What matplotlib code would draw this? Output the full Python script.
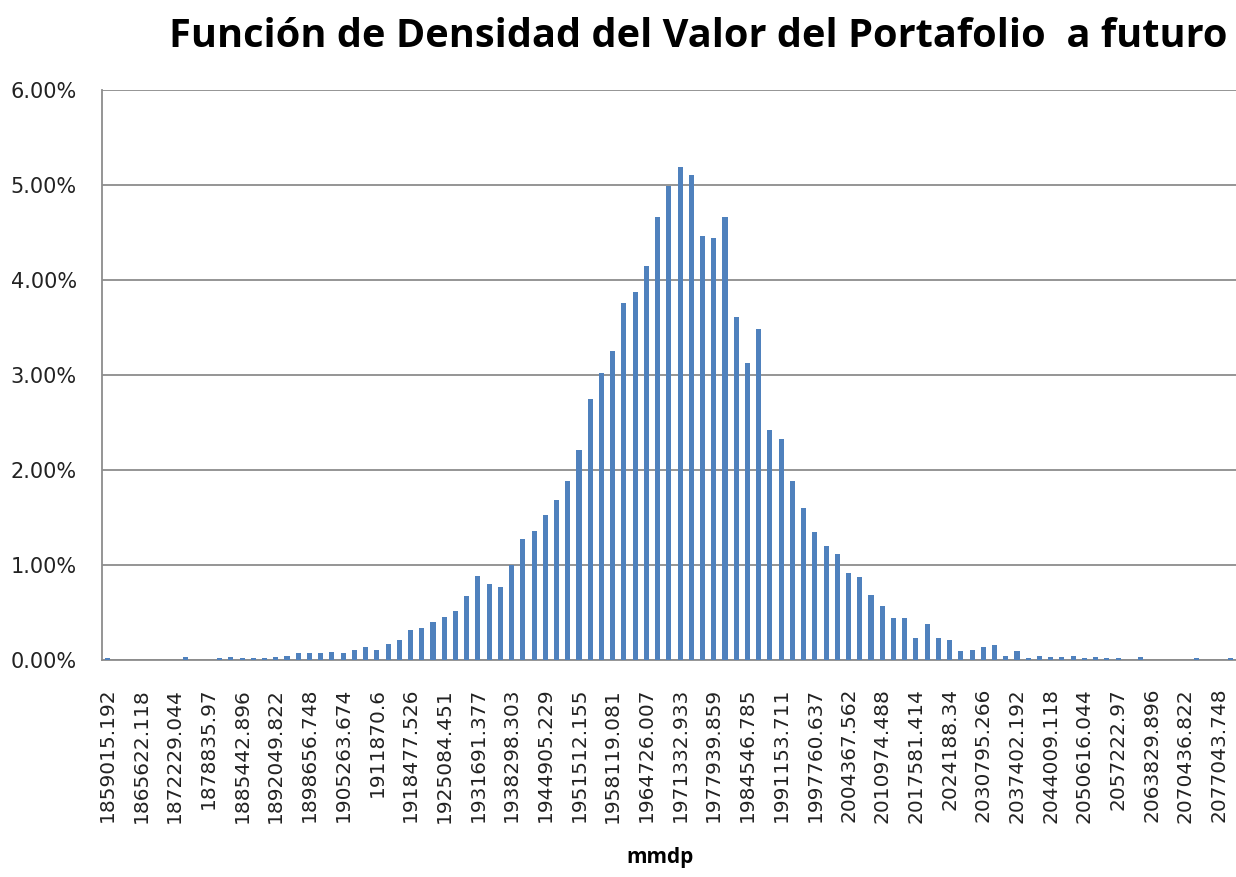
import matplotlib.pyplot as plt

# bar heights in percent, one per bin (101 bins)
densidad = [
    0.02, 0, 0, 0, 0, 0, 0, 0.03, 0, 0,
    0.02, 0.03, 0.02, 0.02, 0.02, 0.03, 0.045, 0.07, 0.07, 0.07,
    0.084, 0.07, 0.11, 0.14, 0.11, 0.165, 0.21, 0.32, 0.34, 0.40,
    0.45, 0.52, 0.67, 0.88, 0.80, 0.77, 1.00, 1.27, 1.36, 1.53,
    1.68, 1.88, 2.21, 2.75, 3.02, 3.25, 3.76, 3.88, 4.15, 4.66,
    4.99, 5.19, 5.11, 4.46, 4.44, 4.66, 3.61, 3.13, 3.49, 2.42,
    2.33, 1.88, 1.60, 1.35, 1.20, 1.12, 0.92, 0.87, 0.68, 0.57,
    0.44, 0.44, 0.235, 0.38, 0.235, 0.21, 0.10, 0.11, 0.14, 0.155,
    0.046, 0.10, 0.018, 0.046, 0.03, 0.03, 0.046, 0.018, 0.03, 0.018,
    0.018, 0, 0.03, 0, 0, 0, 0, 0.018, 0, 0,
    0.018,
]

# every third bin carries a label
etiquetas = [
    "1859015.192", "1865622.118", "1872229.044", "1878835.97", "1885442.896",
    "1892049.822", "1898656.748", "1905263.674", "1911870.6", "1918477.526",
    "1925084.451", "1931691.377", "1938298.303", "1944905.229", "1951512.155",
    "1958119.081", "1964726.007", "1971332.933", "1977939.859", "1984546.785",
    "1991153.711", "1997760.637", "2004367.562", "2010974.488", "2017581.414",
    "2024188.34", "2030795.266", "2037402.192", "2044009.118", "2050616.044",
    "2057222.97", "2063829.896", "2070436.822", "2077043.748",
]
y_ticks = [0, 1, 2, 3, 4, 5, 6]

fig = plt.figure(figsize=(12.36, 8.77), dpi=100)
ax = fig.add_axes([0.0823, 0.2474, 0.9177, 0.6497])

pos = list(range(len(densidad)))
ax.bar(pos, [v / 100 for v in densidad], width=0.45, color="#4F81BD", zorder=3)

ax.set_xlim(-0.5, len(densidad) - 0.5)
ax.set_ylim(0, 0.06)
ax.set_yticks([t / 100 for t in y_ticks])
ax.set_yticklabels(["%.2f%%" % t for t in y_ticks], fontsize=15, family="DejaVu Sans",
                   color="#222222")
ax.yaxis.grid(True, color="#8c8c8c", linewidth=1.3, zorder=0)

ax.set_xticks(pos[::3])
ax.set_xticklabels(etiquetas, rotation=90, fontsize=14.5, family="DejaVu Sans",
                   va="top", ha="center", color="#222222")
ax.tick_params(axis="both", length=0)
ax.tick_params(axis="x", pad=20)
ax.tick_params(axis="y", pad=18)

for s in ["top", "right"]:
    ax.spines[s].set_visible(False)
for s in ["left", "bottom"]:
    ax.spines[s].set_color("#8c8c8c")
    ax.spines[s].set_linewidth(1.3)

fig.text(0.5647, 0.958, "Función de Densidad del Valor del Portafolio  a futuro",
         ha="center", va="center", fontsize=28.6, fontweight="bold", family="Open Sans")
fig.text(0.534, 0.022, "mmdp", ha="center", va="center", fontsize=15,
         fontweight="bold", family="Open Sans")

fig.savefig("out.png", dpi=100)
